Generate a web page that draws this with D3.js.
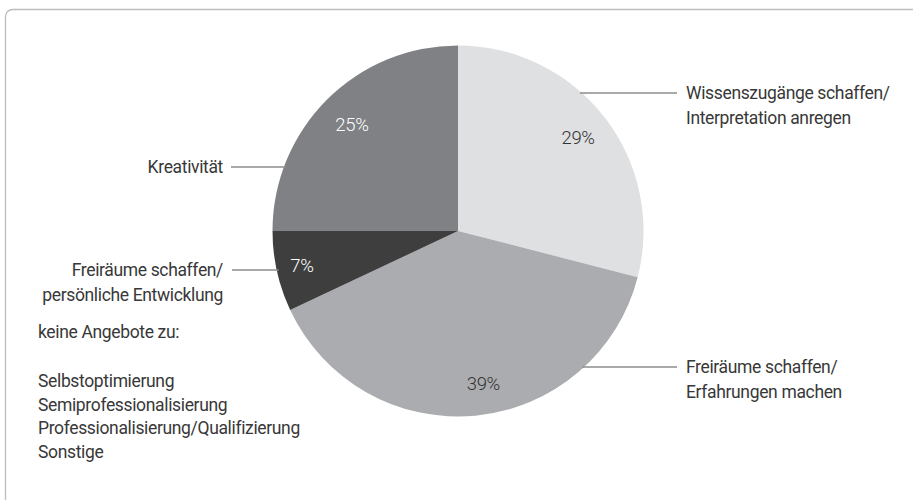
<!DOCTYPE html>
<html>
<head>
<meta charset="utf-8">
<script src="https://cdn.jsdelivr.net/npm/d3@7"></script>
<style>
  html, body { margin: 0; padding: 0; background: #fff; }
  svg { display: block; }
  text { font-family: "Roboto", "DejaVu Sans Condensed", sans-serif; font-weight: 400; fill: #383838; letter-spacing: -0.35px; }
</style>
</head>
<body>
<svg id="chart" width="913" height="500"></svg>
<script>
// ---- data ----
const categories = [
  ["Wissenszugänge schaffen/", "Interpretation anregen"],
  ["Freiräume schaffen/", "Erfahrungen machen"],
  ["Freiräume schaffen/", "persönliche Entwicklung"],
  ["Kreativität"]
];
const values = [29, 39, 7, 25];
const valueLabels = ["29%", "39%", "7%", "25%"];
const sliceColors = ["#dfe0e2", "#abacaf", "#3e3e3e", "#808185"];
const percentColors = ["#333333", "#333333", "#ffffff", "#ffffff"];
const noOfferTitle = "keine Angebote zu:";
const noOfferItems = ["Selbstoptimierung", "Semiprofessionalisierung", "Professionalisierung/Qualifizierung", "Sonstige"];

// ---- layout ----
const cx = 458, cy = 231, R = 185.5;
const fontSize = 17.5, pctFontSize = 18.5, lineH = 25;
const labelRadius = [152, 155, 160, 150];
const labelAngleShift = [0, -4, 0, 0]; // degrees
// leader line: y, side, text anchor x, line outer end x
const leaders = [
  { y: 93,  side: 1,  textX: 686, lineEnd: 677 },
  { y: 367, side: 1,  textX: 686, lineEnd: 677 },
  { y: 270, side: -1, textX: 223, lineEnd: 232 },
  { y: 167, side: -1, textX: 223, lineEnd: 231 }
];

const svg = d3.select("#chart");

// frame
svg.append("rect")
  .attr("x", 5.5).attr("y", 9.5)
  .attr("width", 960).attr("height", 560)
  .attr("rx", 7).attr("ry", 7)
  .attr("fill", "none")
  .attr("stroke", "#bdbdbd")
  .attr("stroke-width", 1.3);

const g = svg.append("g").attr("transform", `translate(${cx},${cy})`);

const pie = d3.pie().sort(null).value(d => d)(values);
const arc = d3.arc().innerRadius(0).outerRadius(R);

g.selectAll("path.slice")
  .data(pie)
  .join("path")
  .attr("class", "slice")
  .attr("d", arc)
  .attr("fill", (d, i) => sliceColors[i]);

// percent labels
g.selectAll("text.pct")
  .data(pie)
  .join("text")
  .attr("class", "pct")
  .attr("transform", (d, i) => {
    const a = (d.startAngle + d.endAngle) / 2 + labelAngleShift[i] * Math.PI / 180;
    const r = labelRadius[i];
    return `translate(${r * Math.sin(a)},${-r * Math.cos(a)})`;
  })
  .attr("text-anchor", "middle")
  .attr("dy", "0.35em")
  .style("font-size", pctFontSize + "px")
  .style("font-weight", 300)
  .style("fill", (d, i) => percentColors[i])
  .text((d, i) => valueLabels[i]);

// leader lines + category labels
categories.forEach((lines, i) => {
  const L = leaders[i];
  const dy = L.y - cy;
  const edgeX = cx + L.side * Math.sqrt(R * R - dy * dy);
  svg.append("line")
    .attr("x1", edgeX - L.side * 2).attr("y1", L.y)
    .attr("x2", L.lineEnd).attr("y2", L.y)
    .attr("stroke", "#8c8c8c")
    .attr("stroke-width", 1.3);
  const t = svg.append("text")
    .attr("x", L.textX).attr("y", L.y)
    .attr("text-anchor", L.side > 0 ? "start" : "end")
    .style("font-size", fontSize + "px");
  lines.forEach((s, k) => {
    t.append("tspan")
      .attr("x", L.textX)
      .attr("dy", k === 0 ? "0.35em" : lineH + "px")
      .text(s);
  });
});

// "keine Angebote" block
svg.append("text")
  .attr("x", 38).attr("y", 332)
  .attr("dy", "0.35em")
  .style("font-size", fontSize + "px")
  .text(noOfferTitle);

svg.append("g").selectAll("text")
  .data(noOfferItems)
  .join("text")
  .attr("x", 38)
  .attr("y", (d, i) => 381 + i * 23.5)
  .attr("dy", "0.35em")
  .style("font-size", fontSize + "px")
  .text(d => d);
</script>
</body>
</html>
